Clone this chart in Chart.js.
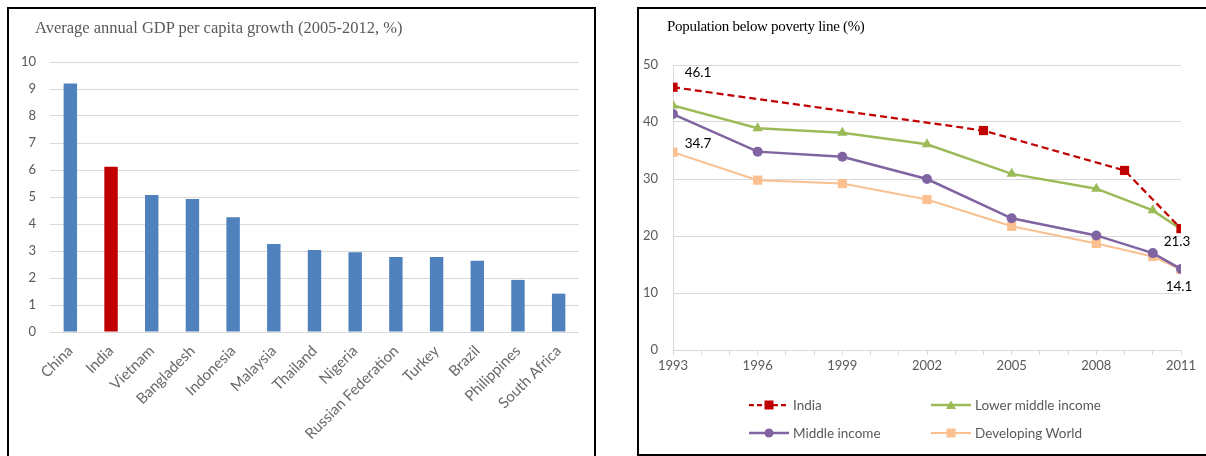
<!DOCTYPE html>
<html>
<head>
<meta charset="utf-8">
<script src="https://cdn.jsdelivr.net/npm/chart.js@4"></script>
<style>
  body { margin: 0; background: #fff; width: 1206px; height: 456px; overflow: hidden; position: relative; }
  .panel { position: absolute; border: 2px solid #000; box-sizing: border-box; }
  #leftPanel { left: 7px; top: 7px; width: 589px; height: 470px; }
  #rightPanel { left: 637px; top: 7px; width: 590px; height: 449px; }
  .title { position: absolute; font-family: "Liberation Serif", serif; white-space: nowrap; }
  #leftTitle { left: 26px; top: 9px; font-size: 16.5px; color: #595959; }
  #rightTitle { left: 28px; top: 9px; font-size: 15px; color: #000; letter-spacing: -0.3px; }
  .wrap { position: absolute; }
  #leftWrap { left: 0; top: 0; width: 585px; height: 447px; }
  #rightWrap { left: 0; top: 0; width: 567px; height: 444px; }
  #legend { position: absolute; left: 110px; top: 387px; display: grid; grid-template-columns: 182px 200px; row-gap: 10px;
            font-family: Lato, sans-serif; font-size: 13.5px; color: #595959; }
  .item { display: flex; align-items: center; height: 18px; }
  .item svg { margin-right: 4px; }
</style>
</head>
<body>
<div class="panel" id="leftPanel">
  <div class="wrap" id="leftWrap"><canvas id="gdpChart"></canvas></div>
  <div class="title" id="leftTitle">Average annual GDP per capita growth (2005-2012, %)</div>
</div>
<div class="panel" id="rightPanel">
  <div class="wrap" id="rightWrap"><canvas id="povertyChart"></canvas></div>
  <div class="title" id="rightTitle">Population below poverty line (%)</div>
  <div id="legend"></div>
</div>
<script>
// GDP growth bar chart data
var countries = ["China", "India", "Vietnam", "Bangladesh", "Indonesia", "Malaysia", "Thailand",
    "Nigeria", "Russian Federation", "Turkey", "Brazil", "Philippines", "South Africa"];
var gdpGrowth = [9.2, 6.12, 5.07, 4.93, 4.25, 3.26, 3.04, 2.95, 2.78, 2.78, 2.64, 1.93, 1.42];

// Poverty line chart data
var indiaYears = [1993, 2004, 2009, 2011];
var indiaPoverty = [46.1, 38.5, 31.5, 21.3];
var groupYears = [1993, 1996, 1999, 2002, 2005, 2008, 2010, 2011];
var lowerMiddlePoverty = [42.9, 38.9, 38.1, 36.1, 30.9, 28.3, 24.5, 21.2];
var middlePoverty = [41.4, 34.8, 33.9, 30.0, 23.1, 20.1, 17.0, 14.2];
var developingPoverty = [34.7, 29.8, 29.2, 26.4, 21.7, 18.7, 16.4, 14.1];
var seriesNames = ["India", "Lower middle income", "Middle income", "Developing World"];
var yearTicks = [1993, 1996, 1999, 2002, 2005, 2008, 2011];

var tickFont = { family: "Lato, sans-serif", size: 13 };
var tickColor = "#595959";
var gridColor = "#d9d9d9";

// Bar colours: India highlighted in red
var barColors = [];
for (var i in countries) {
    barColors.push(countries[i] === "India" ? "#c00000" : "#4f81bd");
}

new Chart(document.getElementById("gdpChart"), {
    type: "bar",
    data: {
        labels: countries,
        datasets: [{
            data: gdpGrowth,
            backgroundColor: barColors,
            categoryPercentage: 1,
            barPercentage: 0.33
        }]
    },
    options: {
        responsive: true,
        maintainAspectRatio: false,
        animation: false,
        layout: { padding: { left: 0, right: 15, top: 53, bottom: 0 } },
        plugins: { legend: { display: false }, tooltip: { enabled: false } },
        scales: {
            x: {
                grid: { display: false },
                border: { display: false },
                ticks: { font: { family: "Lato, sans-serif", size: 15 }, color: "#6a6a6a", minRotation: 45, maxRotation: 45, autoSkip: false, padding: 2 },
                afterFit: function (scale) { scale.height = 124; }
            },
            y: {
                min: 0, max: 10,
                grid: { color: gridColor, drawTicks: false },
                border: { display: false },
                ticks: { stepSize: 1, font: tickFont, color: tickColor, padding: 14 },
                afterFit: function (scale) { scale.width = 41; }
            }
        }
    }
});

// Draws the value labels next to chosen points
var pointLabels = [
    { dataset: 0, index: 0, text: "46.1", dx: 25, dy: -15 },
    { dataset: 3, index: 0, text: "34.7", dx: 25, dy: -9 },
    { dataset: 0, index: 3, text: "21.3", dx: -4, dy: 13 },
    { dataset: 3, index: 7, text: "14.1", dx: -2, dy: 17 }
];
var pointLabelPlugin = {
    id: "pointLabels",
    afterDatasetsDraw: function (chart) {
        var ctx = chart.ctx;
        ctx.save();
        ctx.font = "13.5px Lato, sans-serif";
        ctx.fillStyle = "#000";
        ctx.textAlign = "center";
        ctx.textBaseline = "middle";
        pointLabels.forEach(function (l) {
            var p = chart.data.datasets[l.dataset].data[l.index];
            var x = chart.scales.x.getPixelForValue(p.x);
            var y = chart.scales.y.getPixelForValue(p.y);
            ctx.fillText(l.text, x + l.dx, y + l.dy);
        });
        ctx.restore();
    }
};

function toPoints(years, values) {
    var pts = [];
    for (var i = 0; i < years.length; i++) {
        pts.push({ x: years[i], y: values[i] });
    }
    return pts;
}

var lineStyles = [
    { color: "#c00000", width: 2.25, dash: [7, 4], point: "rect", radius: 6.5 },
    { color: "#9bbb59", width: 2.5, dash: [], point: "triangle", radius: 6 },
    { color: "#8064a2", width: 2.5, dash: [], point: "circle", radius: 5 },
    { color: "#fac090", width: 2, dash: [], point: "rect", radius: 6.5 }
];
var seriesData = [
    toPoints(indiaYears, indiaPoverty),
    toPoints(groupYears, lowerMiddlePoverty),
    toPoints(groupYears, middlePoverty),
    toPoints(groupYears, developingPoverty)
];

var datasets = [];
for (var s = 0; s < seriesNames.length; s++) {
    var st = lineStyles[s];
    datasets.push({
        label: seriesNames[s],
        data: seriesData[s],
        borderColor: st.color,
        backgroundColor: st.color,
        borderWidth: st.width,
        borderDash: st.dash,
        pointStyle: st.point,
        pointRadius: st.radius,
        pointBorderWidth: 0,
        tension: 0
    });
}

new Chart(document.getElementById("povertyChart"), {
    type: "line",
    data: { datasets: datasets },
    plugins: [pointLabelPlugin],
    options: {
        responsive: true,
        maintainAspectRatio: false,
        animation: false,
        layout: { padding: { left: 0, right: 25, top: 56, bottom: 73 } },
        plugins: { legend: { display: false }, tooltip: { enabled: false } },
        scales: {
            x: {
                type: "linear",
                min: 1993, max: 2011,
                grid: { drawOnChartArea: false, color: gridColor, tickLength: 5 },
                border: { color: gridColor },
                ticks: {
                    stepSize: 1, autoSkip: false, maxRotation: 0, font: tickFont, color: tickColor, padding: 3,
                    callback: function (v) { return yearTicks.indexOf(v) >= 0 ? String(v) : ""; }
                },
                afterFit: function (scale) { scale.height = 30; }
            },
            y: {
                min: 0, max: 50,
                grid: { color: gridColor, drawTicks: false },
                border: { color: gridColor },
                ticks: { stepSize: 10, font: tickFont, color: tickColor, padding: 15 },
                afterFit: function (scale) { scale.width = 34; }
            }
        }
    }
});

// Legend in two columns, built from the series names
var legend = document.getElementById("legend");
seriesNames.forEach(function (name, s) {
    var st = lineStyles[s];
    var marker;
    if (st.point === "circle") {
        marker = '<circle cx="20" cy="6" r="4.5" fill="' + st.color + '"/>';
    } else if (st.point === "triangle") {
        marker = '<polygon points="20,1.5 25,10 15,10" fill="' + st.color + '"/>';
    } else {
        marker = '<rect x="15.5" y="1.5" width="9" height="9" fill="' + st.color + '"/>';
    }
    var item = document.createElement("div");
    item.className = "item";
    item.innerHTML = '<svg width="40" height="12"><line x1="0" y1="6" x2="40" y2="6" stroke="' + st.color +
        '" stroke-width="' + st.width + '" stroke-dasharray="' + (st.dash.length ? "5,3" : "none") + '"/>' + marker + '</svg>' + name;
    legend.appendChild(item);
});
</script>
</body>
</html>
